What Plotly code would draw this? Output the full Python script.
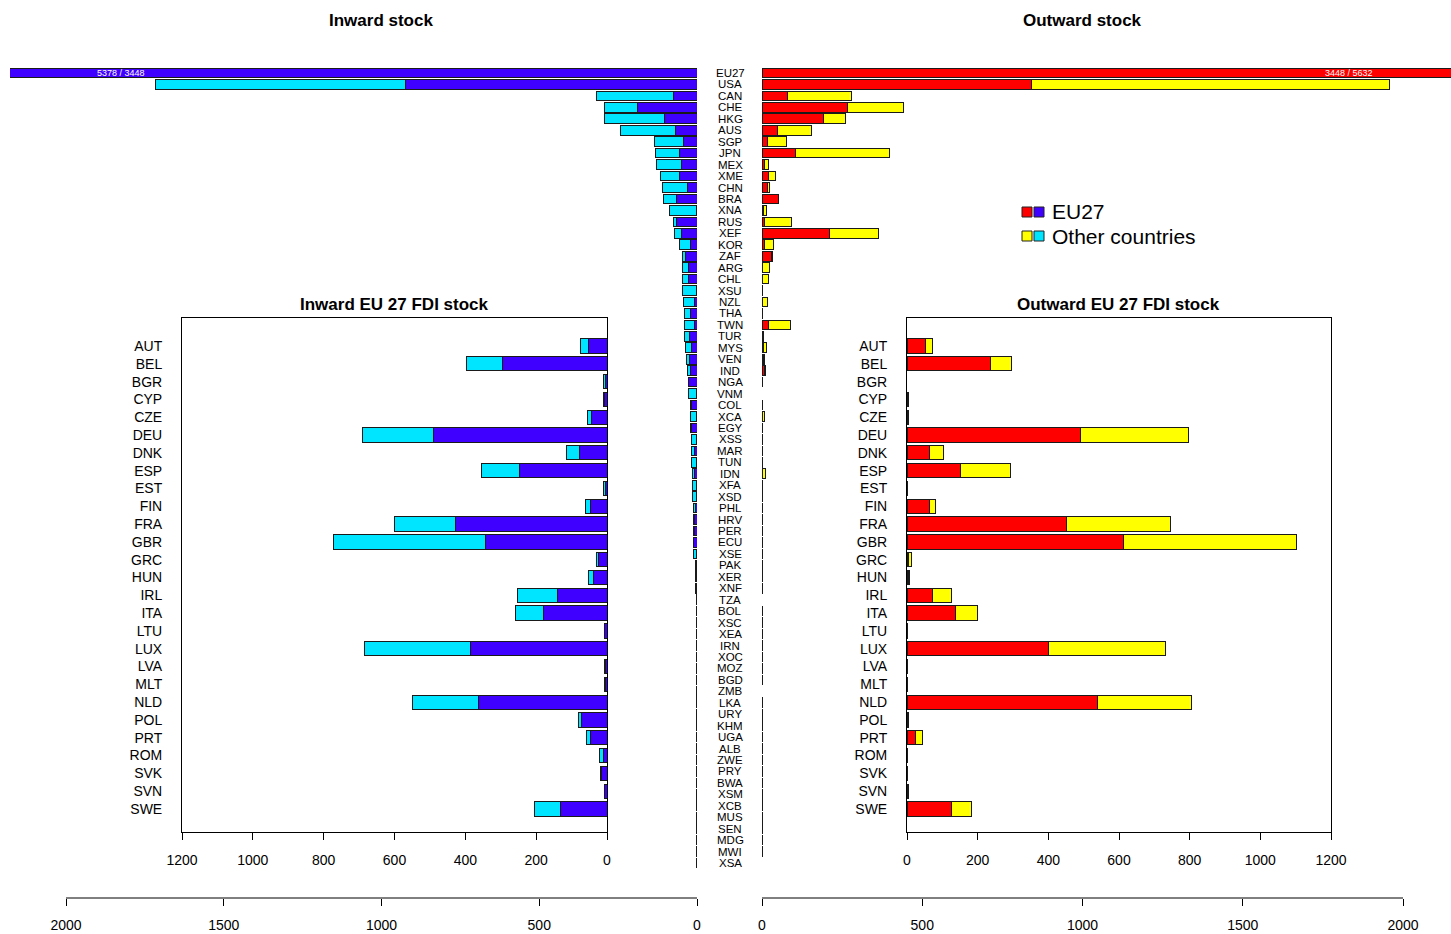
import plotly.graph_objects as go

W, H = 1451, 934

# ---------------- data ----------------
countries = ["EU27", "USA", "CAN", "CHE", "HKG", "AUS", "SGP", "JPN", "MEX", "XME",
             "CHN", "BRA", "XNA", "RUS", "XEF", "KOR", "ZAF", "ARG", "CHL", "XSU",
             "NZL", "THA", "TWN", "TUR", "MYS", "VEN", "IND", "NGA", "VNM", "COL",
             "XCA", "EGY", "XSS", "MAR", "TUN", "IDN", "XFA", "XSD", "PHL", "HRV",
             "PER", "ECU", "XSE", "PAK", "XER", "XNF", "TZA", "BOL", "XSC", "XEA",
             "IRN", "XOC", "MOZ", "BGD", "ZMB", "LKA", "URY", "KHM", "UGA", "ALB",
             "ZWE", "PRY", "BWA", "XSM", "XCB", "MUS", "SEN", "MDG", "MWI", "XSA"]

# inward stock: part held by EU27 investors and total
inward_eu = [3448, 925, 75, 189, 104, 68, 42, 56, 50, 56,
             31, 64, 3, 64, 50, 20, 37, 28, 28, 2,
             9, 20, 9, 24, 16, 24, 20, 26, 2, 16,
             2, 16, 3, 9, 2, 7, 1, 2, 6, 8,
             8, 10, 2, 2, 1, 1, 2, 2, 2, 2,
             2, 2, 2, 2, 2, 2, 2, 2, 1, 1,
             1, 1, 1, 1, 1, 1, 1, 1, 1, 1]
inward_total = [5378, 1716, 318, 293, 293, 241, 134, 131, 128, 116,
                109, 105, 87, 75, 72, 54, 46, 45, 45, 47,
                43, 40, 40, 40, 35, 32, 31, 28, 28, 20,
                20, 20, 18, 18, 18, 14, 14, 14, 11, 10,
                10, 12, 11, 6, 6, 6, 2, 2, 2, 2,
                2, 2, 2, 2, 2, 2, 2, 2, 1, 1,
                1, 1, 1, 1, 1, 1, 1, 1, 1, 1]

# outward stock: part invested by EU27 and total
outward_eu = [3448, 842, 80, 266, 191, 49, 16, 103, 9, 20,
              18, 51, 4, 9, 211, 9, 29, 1, 1, 2,
              2, 2, 20, 3, 4, 4, 9, 2, 0, 2,
              1, 1, 1, 1, 1, 1, 2, 1, 2, 2,
              1, 1, 1, 1, 1, 2, 0, 1, 1, 1,
              1, 1, 1, 1, 0, 1, 1, 1, 1, 1,
              1, 1, 1, 1, 1, 1, 1, 1, 1, 0]
outward_total = [5632, 1959, 280, 443, 262, 153, 77, 399, 20, 42,
                 23, 53, 13, 92, 363, 35, 34, 24, 20, 3,
                 17, 3, 88, 6, 14, 8, 11, 3, 0, 3,
                 9, 2, 2, 2, 1, 11, 3, 2, 3, 3,
                 2, 2, 2, 2, 2, 3, 0, 1, 1, 1,
                 1, 1, 1, 1, 0, 1, 1, 1, 1, 1,
                 1, 1, 1, 1, 1, 1, 1, 1, 1, 0]

eu_members = ["AUT", "BEL", "BGR", "CYP", "CZE", "DEU", "DNK", "ESP", "EST", "FIN",
              "FRA", "GBR", "GRC", "HUN", "IRL", "ITA", "LTU", "LUX", "LVA", "MLT",
              "NLD", "POL", "PRT", "ROM", "SVK", "SVN", "SWE"]
member_in_eu = [52, 294, 3, 7, 44, 490, 77, 248, 4, 48,
                428, 344, 25, 38, 140, 179, 6, 386, 5, 5,
                363, 72, 48, 10, 15, 6, 130]
member_in_total = [75, 396, 9, 9, 56, 691, 114, 353, 9, 61,
                   600, 773, 29, 52, 254, 258, 8, 684, 7, 7,
                   550, 80, 58, 22, 17, 8, 205]
member_out_eu = [52, 236, 0, 2, 2, 490, 65, 150, 1, 65,
                 450, 613, 5, 5, 72, 137, 1, 400, 1, 1,
                 539, 3, 23, 1, 1, 2, 125]
member_out_total = [73, 296, 0, 4, 4, 796, 104, 292, 1, 81,
                    745, 1103, 14, 8, 125, 199, 1, 733, 1, 1,
                    804, 4, 44, 1, 1, 3, 182]

main_ticks = [0, 500, 1000, 1500, 2000]
inset_ticks = [0, 200, 400, 600, 800, 1000, 1200]

# ---------------- style ----------------
RED, YELLOW = "#FF0000", "#FFFF00"
BLUE, CYAN = "#4000FF", "#00E5FF"
EDGE = dict(color="#1a1a1a", width=1)
FONT = "Liberation Sans, Arial, sans-serif"


def px(x):
    return x / W


def py(y):
    return 1 - y / H


def nz(v):
    return [None if a == 0 else a for a in v]


def rest(total, part):
    return [None if t - p <= 0 else t - p for t, p in zip(total, part)]


fig = go.Figure()


def add_pair(cats, part, total, c1, c2, xa, ya, w):
    fig.add_trace(go.Bar(y=cats, x=nz(part), orientation="h", width=w,
                         marker=dict(color=c1, line=EDGE), xaxis=xa, yaxis=ya,
                         showlegend=False, hoverinfo="x+y"))
    fig.add_trace(go.Bar(y=cats, x=rest(total, part), orientation="h", width=w,
                         marker=dict(color=c2, line=EDGE), xaxis=xa, yaxis=ya,
                         showlegend=False, hoverinfo="x+y"))


add_pair(countries, inward_eu, inward_total, BLUE, CYAN, "x", "y", 0.84)
add_pair(countries, outward_eu, outward_total, RED, YELLOW, "x2", "y2", 0.84)
add_pair(eu_members, member_in_eu, member_in_total, BLUE, CYAN, "x3", "y3", 0.8)
add_pair(eu_members, member_out_eu, member_out_total, RED, YELLOW, "x4", "y4", 0.8)

# ---------------- axes ----------------
row0, rowstep = 73, 11.45
main_y_range = [(898 - row0) / rowstep, (60 - row0) / rowstep]
irow0, irowstep = 346, (809 - 346) / 26
inset_y_range = [(832 - irow0) / irowstep, (318 - irow0) / irowstep]

in_scale = (697 - 66) / 2000
out_scale = (1403 - 762) / 2000

common_x = dict(showgrid=False, zeroline=False, ticks="outside", ticklen=7,
                tickcolor="black", automargin=False,
                tickfont=dict(size=14, color="black", family=FONT))
inset_y = dict(type="category", categoryarray=eu_members, range=inset_y_range,
               showline=True, mirror=True, linecolor="black", linewidth=1,
               showgrid=False, zeroline=False, ticks="", automargin=False,
               tickfont=dict(size=14, color="black", family=FONT),
               ticklabelstandoff=16, domain=[py(832), py(318)])
main_y = dict(type="category", categoryarray=countries, range=main_y_range,
              visible=False, automargin=False, domain=[py(898), py(60)])

fig.update_layout(
    template="none",
    xaxis=dict(domain=[px(10), px(697)], range=[(697 - 10) / in_scale, 0],
               tickvals=main_ticks, anchor="y", showline=False,
               ticklabelstandoff=7, **common_x),
    yaxis=dict(anchor="x", **main_y),
    xaxis2=dict(domain=[px(762), 1], range=[0, (1451 - 762) / out_scale],
                tickvals=main_ticks, anchor="y2", showline=False,
                ticklabelstandoff=7, **common_x),
    yaxis2=dict(anchor="x2", **main_y),
    xaxis3=dict(domain=[px(182), px(607)], range=[1200, 0], tickvals=inset_ticks,
                anchor="y3", showline=True, mirror=True, linecolor="black", linewidth=1,
                ticklabelstandoff=8, **common_x),
    yaxis3=dict(anchor="x3", **inset_y),
    xaxis4=dict(domain=[px(907), px(1331)], range=[0, 1200], tickvals=inset_ticks,
                anchor="y4", showline=True, mirror=True, linecolor="black", linewidth=1,
                ticklabelstandoff=8, **common_x),
    yaxis4=dict(anchor="x4", **inset_y),
    barmode="stack",
    width=W, height=H,
    margin=dict(l=0, r=0, t=0, b=0, pad=0),
    paper_bgcolor="white", plot_bgcolor="rgba(0,0,0,0)",
    font=dict(family=FONT, color="black"),
    showlegend=False,
)

shapes = [
    dict(type="line", xref="x", yref="paper", x0=0, x1=max(main_ticks),
         y0=py(898), y1=py(898), line=dict(color="black", width=1)),
    dict(type="line", xref="x2", yref="paper", x0=0, x1=max(main_ticks),
         y0=py(898), y1=py(898), line=dict(color="black", width=1)),
]
# legend squares
for (yy, ca, cb) in [(212, RED, BLUE), (236, YELLOW, CYAN)]:
    for i, c in enumerate([ca, cb]):
        x0 = 1022 + i * 12
        shapes.append(dict(type="rect", xref="paper", yref="paper",
                           x0=px(x0), x1=px(x0 + 10), y0=py(yy + 5), y1=py(yy - 5),
                           fillcolor=c, line=dict(color="#222", width=1)))
fig.update_layout(shapes=shapes)

ann = []
# country labels of main chart
for c in countries:
    ann.append(dict(x=px(730), xref="paper", y=c, yref="y", text=c, showarrow=False,
                    xanchor="center", yanchor="middle",
                    font=dict(size=11.5, color="black", family=FONT)))
# truncated EU27 bar labels
ann.append(dict(x=px(95), xref="paper", y=countries[0], yref="y",
                text=f"{inward_total[0]} / {inward_eu[0]}", showarrow=False,
                font=dict(size=9, color="white", family=FONT)))
ann.append(dict(x=px(1375), xref="paper", y=countries[0], yref="y2",
                text=f"{outward_eu[0]} / {outward_total[0]}", showarrow=False,
                font=dict(size=9, color="white", family=FONT)))
# titles
for (x, y, t) in [(381, 21, "Inward stock"), (1082, 21, "Outward stock"),
                  (394, 304, "Inward EU 27 FDI stock"), (1118, 304, "Outward EU 27 FDI stock")]:
    ann.append(dict(x=px(x), y=py(y), xref="paper", yref="paper", text=f"<b>{t}</b>",
                    showarrow=False, xanchor="center", yanchor="middle",
                    font=dict(size=17, color="black", family=FONT)))
# legend text
for (y, t) in [(212, "EU27"), (236, "Other countries")]:
    ann.append(dict(x=px(1050), y=py(y), xref="paper", yref="paper", text=t,
                    showarrow=False, xanchor="left", yanchor="middle",
                    font=dict(size=21, color="black", family=FONT)))
fig.update_layout(annotations=ann)

fig.write_html(
    "out.html",
    config={"displayModeBar": False},
    post_script="document.body.style.margin='0';document.body.style.overflow='hidden';",
)
